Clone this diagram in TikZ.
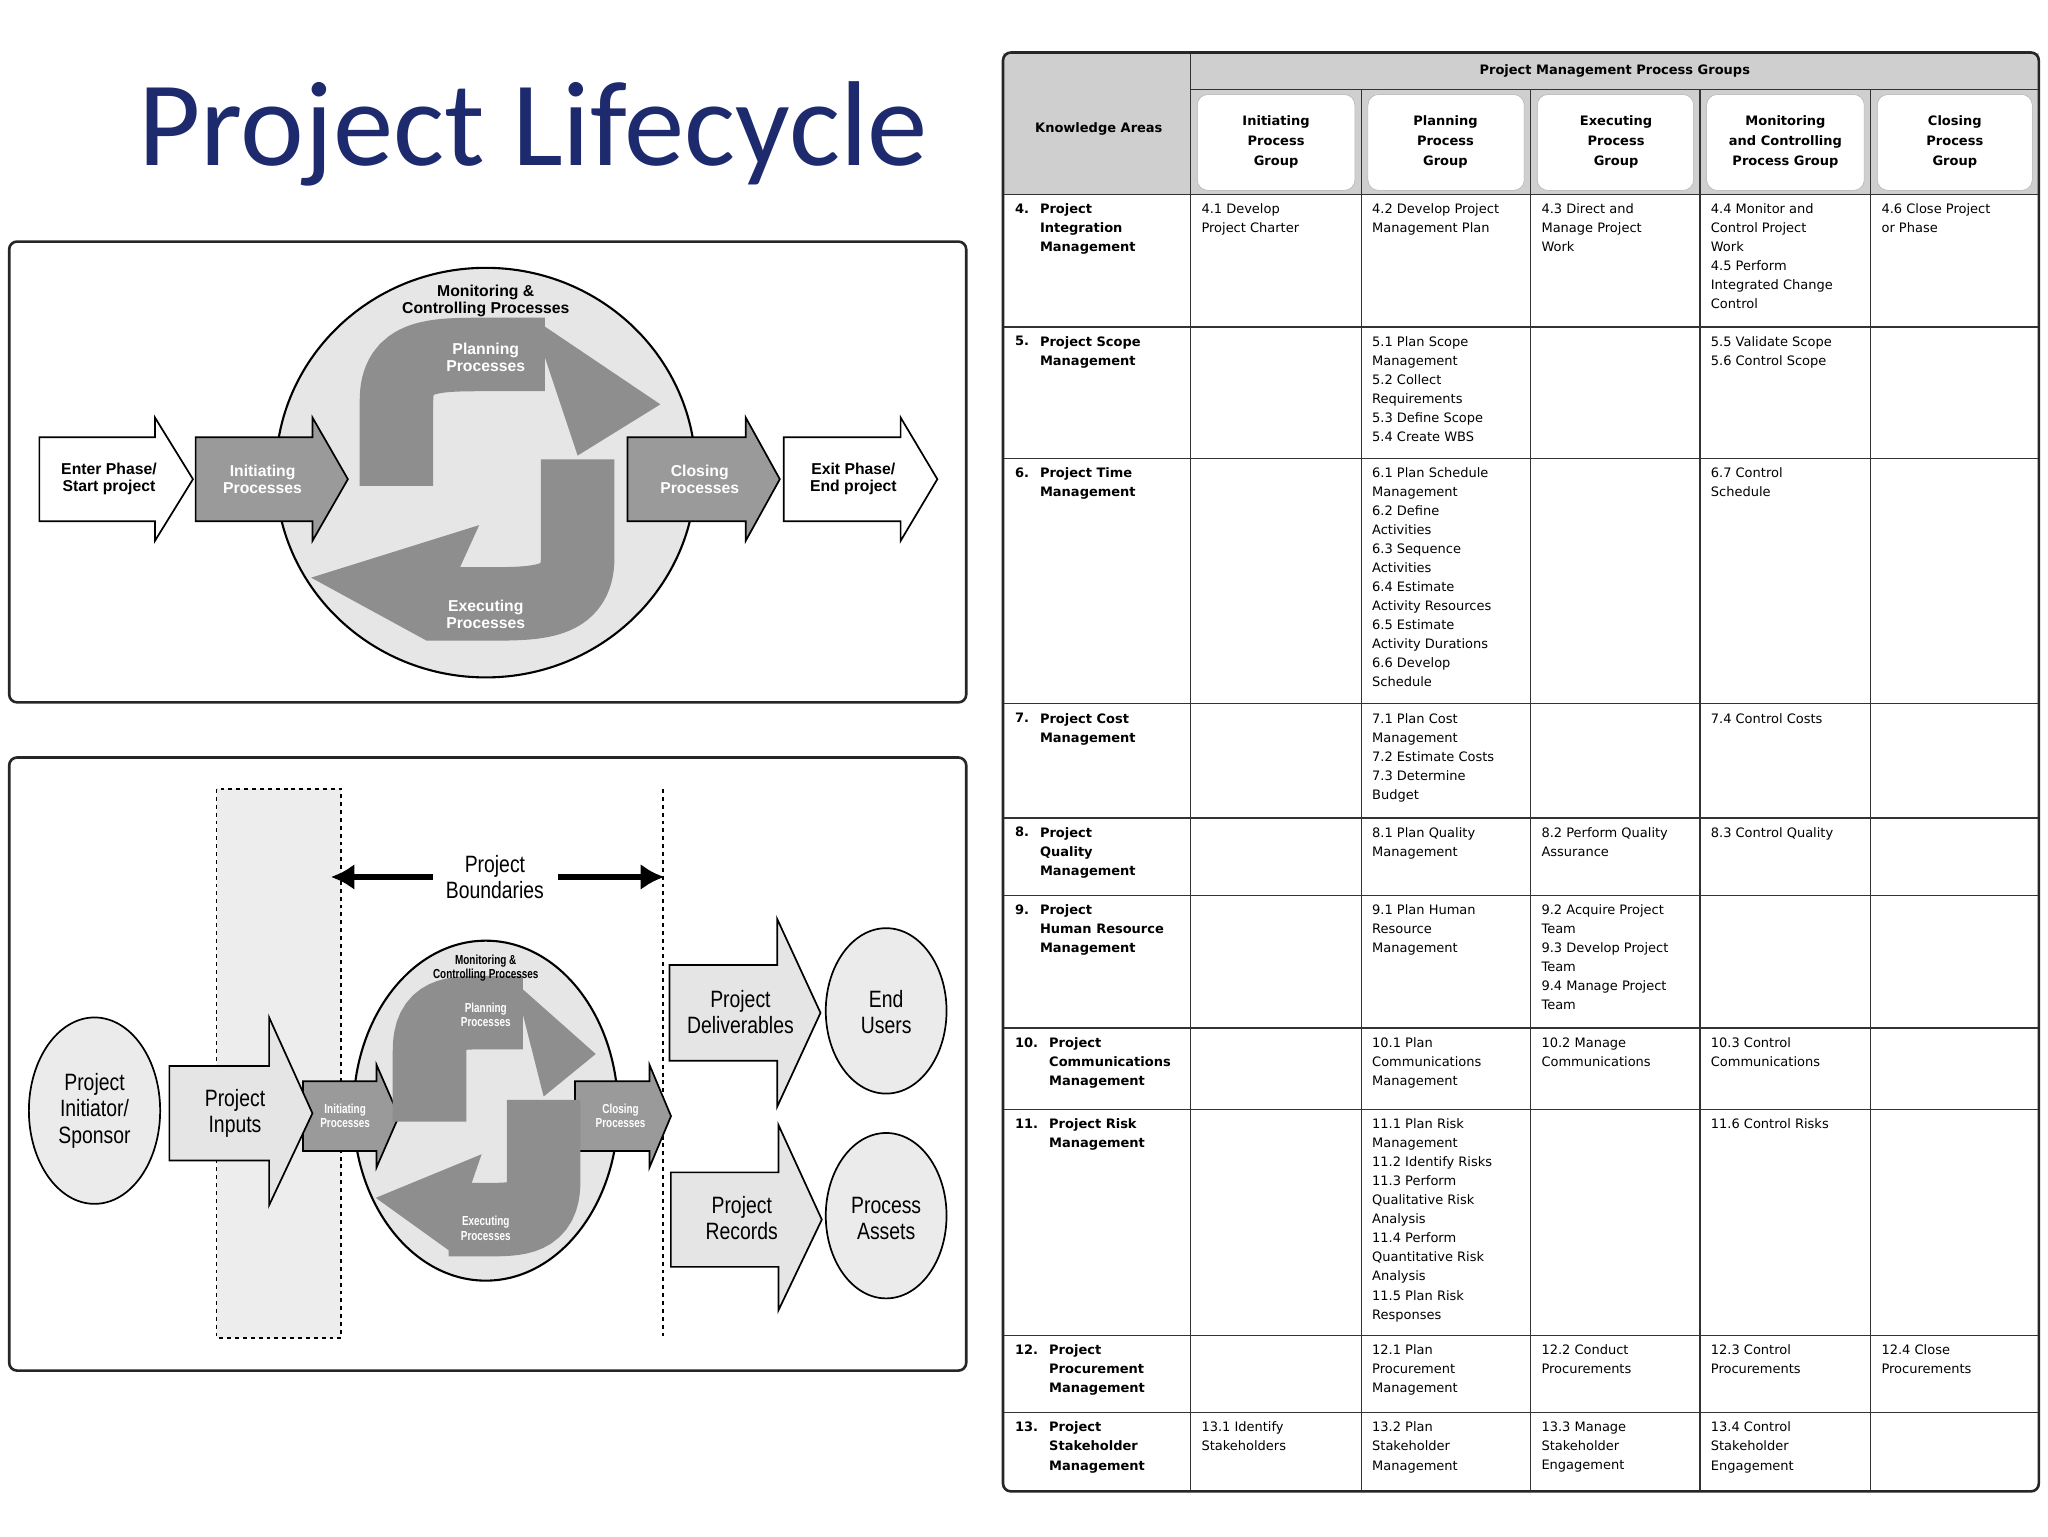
\documentclass[tikz,border=0pt]{standalone}
\usepackage{fontspec}
\setmainfont{DejaVu Sans}
\newfontfamily\arialf{Liberation Sans}
\newfontfamily\titlef{Carlito}
\usetikzlibrary{shapes.geometric,arrows.meta}
\definecolor{titleblue}{HTML}{1E2A6E}
\definecolor{agray}{HTML}{9A9A9A}
\definecolor{bgray}{HTML}{8E8E8E}
\definecolor{cfill}{HTML}{E6E6E6}
\definecolor{hgray}{HTML}{CFCFCF}
\tikzset{
  frame/.style={draw=black!85,line width=2pt,rounded corners=6pt},
  lbl/.style={font=\arialf\bfseries\fontsize{12}{13}\selectfont,align=center,inner sep=0},
  wlbl/.style={lbl,text=white},
  cell/.style={anchor=north west,inner sep=0,align=left,font=\fontsize{9.9}{14.5}\selectfont},
  kcell/.style={cell,font=\bfseries\fontsize{9.9}{14.5}\selectfont},
  hdr/.style={align=center,inner sep=0,font=\bfseries\fontsize{9.9}{15}\selectfont},
  nar/.style={align=center,inner sep=0,font=\arialf\fontsize{18}{20}\selectfont},
  tl/.style={draw=black!80,line width=1pt},
}
\newcommand\blockarr[8]{\draw[black,line width=1.3pt,fill=#8,line join=miter] (#1,#4)--(#2,#4)--(#2,#6)--(#3,{(#4+#5)/2})--(#2,#7)--(#2,#5)--(#1,#5)--cycle;}
\newcommand\lifecycle{%
  \draw[line width=1.6pt,fill=cfill] (0,0) ellipse [x radius=160,y radius=156];
  \blockarr{-221}{-132}{-105}{-27}{37}{-42}{52}{agray}
  \blockarr{108}{198}{224}{-27}{37}{-42}{52}{agray}
  \draw[bgray,line width=56pt] (-68,10) -- (-68,-55) .. controls (-68,-90) and (-40,-90) .. (0,-90) -- (45,-90);
  \fill[bgray] (35,-118)--(133,-52)--(70,-13)--cycle;
  \draw[bgray,line width=56pt] (70,-10) -- (70,65) .. controls (70,100) and (40,100) .. (0,100) -- (-45,100);
  \fill[bgray] (-5,40)--(-133,80)--(-45,128)--cycle;
  \node[lbl] (mc) at (0,-131) {Monitoring \&\\Controlling Processes};
  \node[wlbl] (pl) at (0,-88) {Planning\\Processes};
  \node[wlbl] (ex) at (0,108) {Executing\\Processes};
  \node[wlbl] (in) at (-170,5) {Initiating\\Processes};
  \node[wlbl] (cl) at (163,5) {Closing\\Processes};
}
\newcommand\tc[3]{\node[cell] at (#1+8,#2+7) {#3};}
\newcommand\ka[4]{\node[kcell] at (773,#1+7) {#2}; \node[kcell] at (#3,#1+7) {#4};}
\begin{document}
\begin{tikzpicture}[x=1pt,y=-1pt]
\useasboundingbox (0,0) rectangle (1560,1170);
\node[font=\titlef\fontsize{92}{92}\selectfont,text=titleblue,inner sep=0] (title) at (406,102) {Project Lifecycle};
\draw[frame] (7,184) rectangle (736,535);
\begin{scope}[shift={(370,360)}]\lifecycle\end{scope}
\blockarr{30}{118}{147}{333}{397}{318}{412}{white}
\blockarr{597}{686}{714}{333}{397}{318}{412}{white}
\node[lbl] (enter) at (83,365) {Enter Phase/\\Start project};
\node[lbl] (exit) at (650,365) {Exit Phase/\\End project};
\draw[frame] (7,577) rectangle (736,1044);
\draw[dashed,line width=1.3pt,fill=black!7] (165,601) rectangle (260,1019);
\draw[dashed,line width=1.3pt] (505,601) -- (505,1019);
\node[nar] (pb) at (377,668) {\scalebox{0.82}[1]{Project}\\\scalebox{0.82}[1]{Boundaries}};
\coordinate (bl) at (252,668); \coordinate (br) at (506,668);
\draw[line width=4pt,-{Latex[length=18pt,width=20pt]}] (330,668) -- (bl);
\draw[line width=4pt,-{Latex[length=18pt,width=20pt]}] (425,668) -- (br);
\begin{scope}[shift={(370,846)},xscale=0.63,yscale=0.83,transform shape]\lifecycle\end{scope}
\draw[line width=1.3pt,fill=black!8] (72,846) ellipse [x radius=50,y radius=71];
\node[nar] (sp) at (72,846) {\scalebox{0.82}[1]{Project}\\\scalebox{0.82}[1]{Initiator/}\\\scalebox{0.82}[1]{Sponsor}};
\blockarr{129}{205}{238}{812}{884}{775}{918}{black!10}
\node[nar] (pi) at (179,848) {\scalebox{0.82}[1]{Project}\\\scalebox{0.82}[1]{Inputs}};
\blockarr{510}{592}{625}{735}{808}{700}{843}{black!10}
\node[nar] (pd) at (564,771) {\scalebox{0.82}[1]{Project}\\\scalebox{0.82}[1]{Deliverables}};
\blockarr{511}{593}{626}{893}{965}{857}{998}{black!10}
\node[nar] (pr) at (565,928) {\scalebox{0.82}[1]{Project}\\\scalebox{0.82}[1]{Records}};
\draw[line width=1.3pt,fill=black!8] (675,770) ellipse [x radius=46,y radius=63];
\node[nar] (eu) at (675,771) {\scalebox{0.82}[1]{End}\\\scalebox{0.82}[1]{Users}};
\draw[line width=1.3pt,fill=black!8] (675,926) ellipse [x radius=46,y radius=63];
\node[nar] (pa) at (675,928) {\scalebox{0.82}[1]{Process}\\\scalebox{0.82}[1]{Assets}};
\fill[hgray] (764,40) rectangle (1553,148);
\foreach \a/\b in {907/1037,1037/1166,1166/1295,1295/1425,1425/1553}
  \draw[black!30,fill=white,rounded corners=8pt] (\a+5,72) rectangle (\b-5,145);
\node[hdr] (tt) at (1230,54) {Project Management Process Groups};
\node[hdr] (kh) at (837,98) {Knowledge Areas};
\node[hdr] (h1) at (972,108) {Initiating\\Process\\Group};
\node[hdr] (h2) at (1101,108) {Planning\\Process\\Group};
\node[hdr] (h3) at (1231,108) {Executing\\Process\\Group};
\node[hdr] (h4) at (1360,108) {Monitoring\\and Controlling\\Process Group};
\node[hdr] (h5) at (1489,108) {Closing\\Process\\Group};
\draw[tl] (907,68) -- (1553,68);
\draw[tl] (907,40) -- (907,1136);
\foreach \x in {1037,1166,1295,1425} \draw[tl] (\x,68) -- (\x,1136);
\foreach \y in {148,249,349,536,623,682,783,845,1017,1076} \draw[tl] (764,\y) -- (1553,\y);
\draw[draw=black!85,line width=2pt,rounded corners=6pt] (764,40) rectangle (1553,1136);
\ka{148}{4.}{792}{Project\\Integration\\Management}
\ka{249}{5.}{792}{Project Scope\\Management}
\ka{349}{6.}{792}{Project Time\\Management}
\ka{536}{7.}{792}{Project Cost\\Management}
\ka{623}{8.}{792}{Project\\Quality\\Management}
\ka{682}{9.}{792}{Project\\Human Resource\\Management}
\ka{783}{10.}{799}{Project\\Communications\\Management}
\ka{845}{11.}{799}{Project Risk\\Management}
\ka{1017}{12.}{799}{Project\\Procurement\\Management}
\ka{1076}{13.}{799}{Project\\Stakeholder\\Management}
\tc{907}{148}{4.1 Develop\\Project Charter}
\tc{1037}{148}{4.2 Develop Project\\Management Plan}
\tc{1166}{148}{4.3 Direct and\\Manage Project\\Work}
\tc{1295}{148}{4.4 Monitor and\\Control Project\\Work\\4.5 Perform\\Integrated Change\\Control}
\tc{1425}{148}{4.6 Close Project\\or Phase}
\tc{1037}{249}{5.1 Plan Scope\\Management\\5.2 Collect\\Requirements\\5.3 Define Scope\\5.4 Create WBS}
\tc{1295}{249}{5.5 Validate Scope\\5.6 Control Scope}
\tc{1037}{349}{6.1 Plan Schedule\\Management\\6.2 Define\\Activities\\6.3 Sequence\\Activities\\6.4 Estimate\\Activity Resources\\6.5 Estimate\\Activity Durations\\6.6 Develop\\Schedule}
\tc{1295}{349}{6.7 Control\\Schedule}
\tc{1037}{536}{7.1 Plan Cost\\Management\\7.2 Estimate Costs\\7.3 Determine\\Budget}
\tc{1295}{536}{7.4 Control Costs}
\tc{1037}{623}{8.1 Plan Quality\\Management}
\tc{1166}{623}{8.2 Perform Quality\\Assurance}
\tc{1295}{623}{8.3 Control Quality}
\tc{1037}{682}{9.1 Plan Human\\Resource\\Management}
\tc{1166}{682}{9.2 Acquire Project\\Team\\9.3 Develop Project\\Team\\9.4 Manage Project\\Team}
\tc{1037}{783}{10.1 Plan\\Communications\\Management}
\tc{1166}{783}{10.2 Manage\\Communications}
\tc{1295}{783}{10.3 Control\\Communications}
\tc{1037}{845}{11.1 Plan Risk\\Management\\11.2 Identify Risks\\11.3 Perform\\Qualitative Risk\\Analysis\\11.4 Perform\\Quantitative Risk\\Analysis\\11.5 Plan Risk\\Responses}
\tc{1295}{845}{11.6 Control Risks}
\tc{1037}{1017}{12.1 Plan\\Procurement\\Management}
\tc{1166}{1017}{12.2 Conduct\\Procurements}
\tc{1295}{1017}{12.3 Control\\Procurements}
\tc{1425}{1017}{12.4 Close\\Procurements}
\tc{907}{1076}{13.1 Identify\\Stakeholders}
\tc{1037}{1076}{13.2 Plan\\Stakeholder\\Management}
\tc{1166}{1076}{13.3 Manage\\Stakeholder\\Engagement}
\tc{1295}{1076}{13.4 Control\\Stakeholder\\Engagement}
\end{tikzpicture}
\end{document}
